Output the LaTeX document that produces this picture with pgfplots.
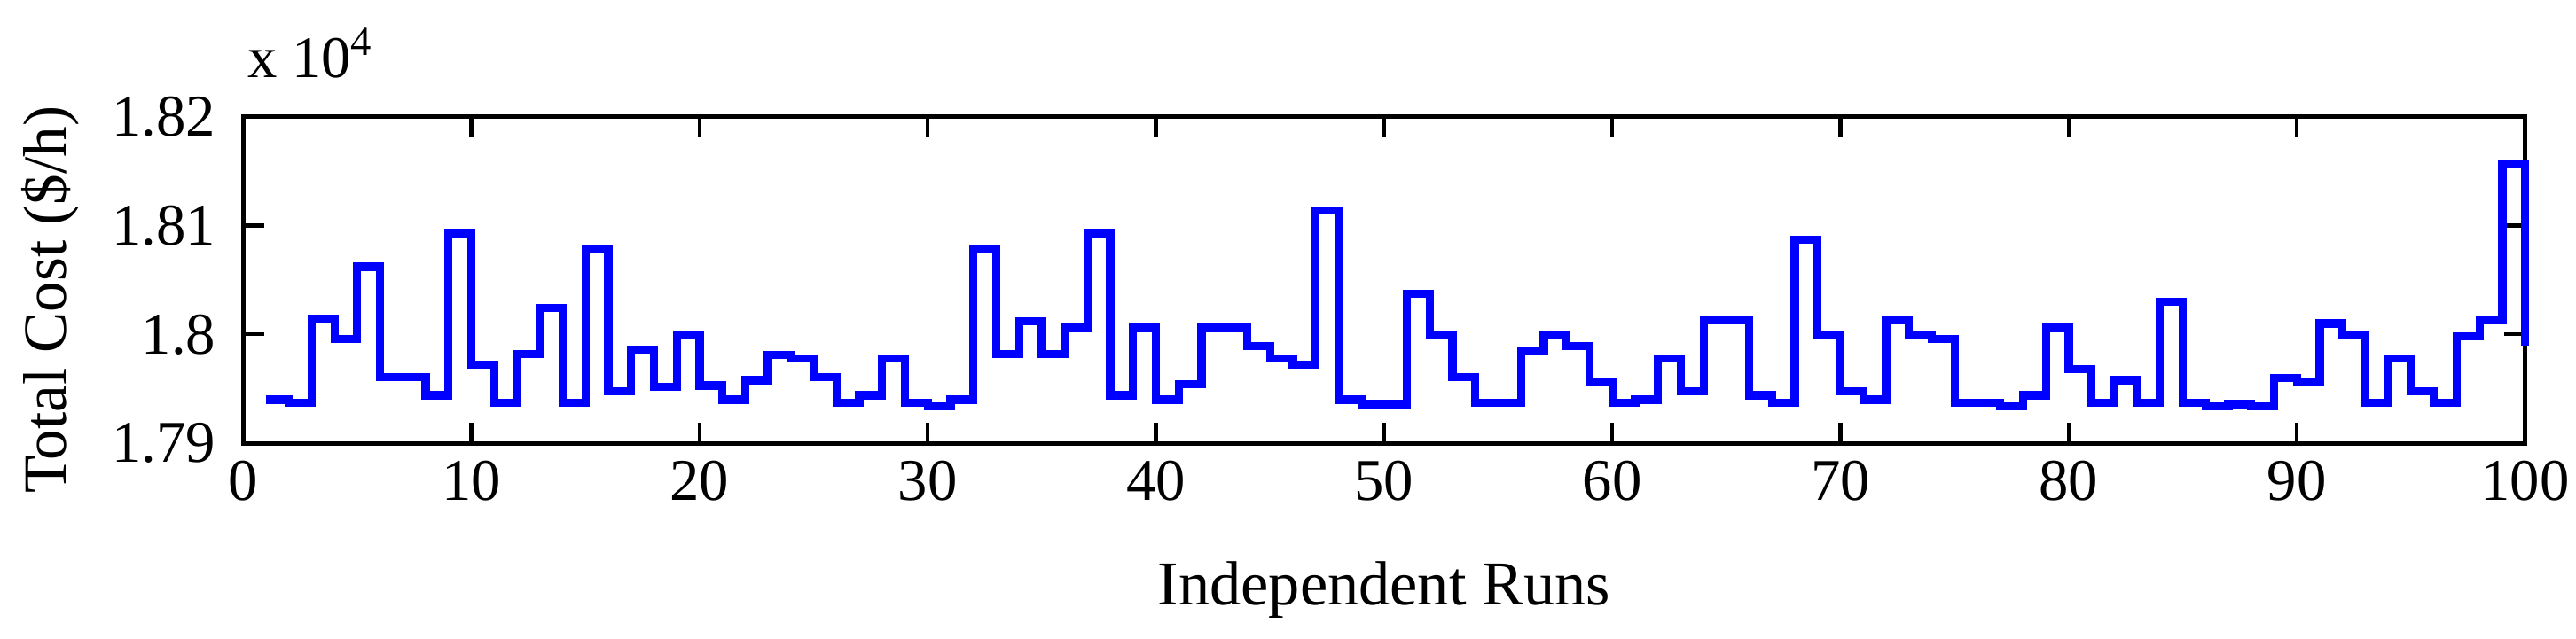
\documentclass[border=0pt]{standalone}
\usepackage{fontspec}
\setmainfont{Liberation Serif}
\usepackage{pgfplots}
\usepackage{pgfplotstable}
\pgfplotsset{compat=1.18}
\pgfplotstableread{
run cost
1 17940
2 17937
3 18014
4 17996
5 18062
6 17961
7 17961
8 17944
9 18093
10 17972
11 17937
12 17982
13 18024
14 17937
15 18079
16 17948
17 17986
18 17952
19 17999
20 17953
21 17940
22 17958
23 17981
24 17978
25 17961
26 17937
27 17944
28 17978
29 17937
30 17934
31 17940
32 18079
33 17982
34 18012
35 17982
36 18006
37 18093
38 17944
39 18006
40 17940
41 17954
42 18006
43 18006
44 17989
45 17978
46 17972
47 18114
48 17940
49 17936
50 17936
51 18037
52 17999
53 17961
54 17937
55 17937
56 17985
57 17999
58 17989
59 17957
60 17937
61 17940
62 17978
63 17948
64 18013
65 18013
66 17944
67 17937
68 18087
69 17999
70 17948
71 17940
72 18013
73 17999
74 17996
75 17937
76 17937
77 17934
78 17944
79 18006
80 17968
81 17937
82 17958
83 17937
84 18030
85 17937
86 17934
87 17936
88 17934
89 17960
90 17957
91 18010
92 17999
93 17937
94 17978
95 17948
96 17937
97 17998
98 18013
99 18156
100 17990
}\costtable
\definecolor{mblue}{RGB}{0,0,255}
\begin{document}
\begin{tikzpicture}
\begin{axis}[
  scale only axis,
  width=416.7pt, height=59.7pt,
  xmin=0, xmax=100, ymin=17900, ymax=18200,
  scaled y ticks=false, scaled x ticks=false,
  xtick={0,10,20,30,40,50,60,70,80,90,100},
  xticklabels={0,10,20,30,40,50,60,70,80,90,100},
  ytick={17900,18000,18100,18200},
  yticklabels={1.79,1.8,1.81,1.82},
  tick align=inside,
  major tick length=3.8pt,
  tick style={black, line width=0.7pt},
  axis line style={black, line width=0.8pt},
  xticklabel style={font=\fontsize{10.8}{10.8}\selectfont, inner sep=0pt, anchor=north, yshift=-3pt},
  yticklabel style={font=\fontsize{10.8}{10.8}\selectfont, inner sep=0pt, anchor=east, xshift=-4.8pt},
  xlabel={Independent Runs},
  xlabel style={font=\fontsize{11.4}{11.4}\selectfont, at={(rel axis cs:0.5,0)}, anchor=base, inner sep=0pt, yshift=-29.5pt},
  clip=false,
]
\addplot[const plot, color=mblue, line width=1.5pt, line join=miter, line cap=butt] table[x=run, y=cost] {\costtable};
\end{axis}
\node[rotate=90, anchor=center, inner sep=0pt, font=\fontsize{11.2}{11.2}\selectfont] at (-35.2pt,26.2pt) {Total Cost (\$/h)};
\node[anchor=base west, inner sep=0pt, font=\fontsize{10.8}{10.8}\selectfont] at (0.6pt,66.9pt) {x 10\textsuperscript{4}};
\pgfresetboundingbox
\path (-44.4pt,-35.7pt) rectangle (426pt,81pt);
\end{tikzpicture}
\end{document}
